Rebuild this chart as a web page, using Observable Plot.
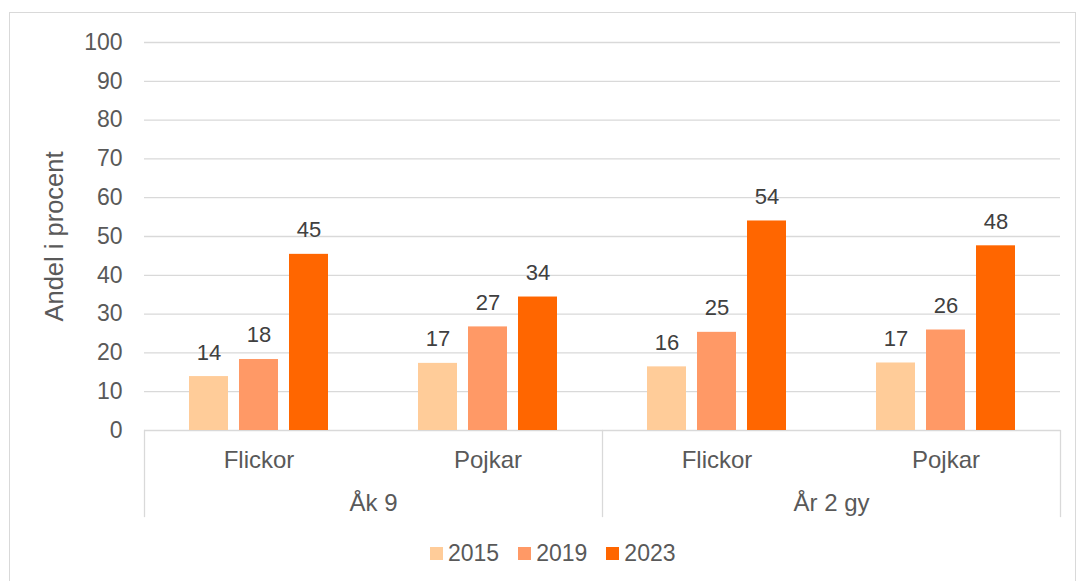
<!DOCTYPE html>
<html>
<head>
<meta charset="utf-8">
<script src="https://cdn.jsdelivr.net/npm/d3@7"></script>
<script src="https://cdn.jsdelivr.net/npm/@observablehq/plot@0.6"></script>
<style>
  html, body { margin: 0; padding: 0; background: #fff; }
  body { width: 1077px; height: 581px; position: relative; overflow: hidden; font-family: "Liberation Sans", Arial, sans-serif; }
  #frame { position: absolute; left: 9px; top: 12px; width: 1067px; height: 600px; border: 1px solid #d9d9d9; box-sizing: border-box; }
  #chart { position: absolute; left: 0; top: 0; }
  #legend { position: absolute; left: 430px; top: 540px; display: flex; align-items: center; font-size: 23px; color: #595959; }
  #legend .item { display: flex; align-items: center; margin-right: 19px; }
  #legend .sw { width: 13px; height: 13px; margin-right: 5px; }
</style>
</head>
<body>
<div id="frame"></div>
<div id="chart"></div>
<div id="legend"></div>
<script>
// ---- data ----
const groups = ["Åk 9", "År 2 gy"];
const categories = ["Flickor", "Pojkar"];
const years = ["2015", "2019", "2023"];
// values per subgroup in order: Åk 9 Flickor, Åk 9 Pojkar, År 2 gy Flickor, År 2 gy Pojkar
const v2015 = [13.9, 17.3, 16.4, 17.4];
const v2019 = [18.3, 26.7, 25.3, 25.9];
const v2023 = [45.4, 34.4, 54.0, 47.6];
const yTicks = [0, 10, 20, 30, 40, 50, 60, 70, 80, 90, 100];
const yLabel = "Andel i procent";
const colors = ["#ffcc99", "#ff9966", "#ff6600"];

// ---- build table ----
const subgroups = [];
groups.forEach(g => categories.forEach(c => subgroups.push({key: g + "|" + c, group: g, cat: c})));
const seriesVals = [v2015, v2019, v2023];
const data = [];
subgroups.forEach((s, i) => years.forEach((y, j) => data.push({key: s.key, group: s.group, cat: s.cat, year: y, value: seriesVals[j][i]})));

const textColor = "#595959";
const gridColor = "#d9d9d9";
const sepOpts = {stroke: gridColor, strokeWidth: 1.3, insetTop: 388, insetBottom: -86};

const chart = Plot.plot({
  width: 1077,
  height: 520,
  marginLeft: 143,
  marginRight: 16,
  marginTop: 42,
  marginBottom: 90,
  style: {fontFamily: "'Liberation Sans', Arial, sans-serif", color: textColor, background: "transparent", overflow: "visible"},
  fx: {domain: subgroups.map(s => s.key), padding: 0, axis: null},
  x: {domain: years, paddingInner: 0.216, paddingOuter: 0.858, axis: null},
  y: {domain: [0, 100]},
  color: {domain: years, range: colors},
  marks: [
    Plot.gridY(yTicks, {stroke: gridColor, strokeOpacity: 1, strokeWidth: 1.3}),
    Plot.axisY(yTicks, {tickSize: 0, tickPadding: 22, fontSize: 23, fill: textColor, label: null}),
    Plot.text([yLabel], {fx: () => subgroups[0].key, text: d => d, frameAnchor: "left", textAnchor: "middle",
      rotate: -90, dx: -90, fontSize: 25.5, fill: textColor}),
    Plot.barY(data, {fx: "key", x: "year", y: "value", fill: "year"}),
    Plot.text(data, {fx: "key", x: "year", y: "value", text: d => String(Math.round(d.value)),
      lineAnchor: "bottom", dy: -17, fontSize: 22, fill: "#404040"}),
    Plot.text(subgroups, {fx: "key", text: "cat", frameAnchor: "bottom", lineAnchor: "bottom",
      dy: 37, fontSize: 24, fill: textColor}),
    Plot.text(subgroups.filter(s => s.cat === categories[1]), {fx: "key", text: "group",
      frameAnchor: "bottom-left", textAnchor: "middle", lineAnchor: "bottom", dy: 80, fontSize: 24, fill: textColor}),
    Plot.frame({anchor: "left", fx: subgroups[0].key, ...sepOpts}),
    Plot.frame({anchor: "left", fx: subgroups[2].key, ...sepOpts}),
    Plot.frame({anchor: "right", fx: subgroups[3].key, ...sepOpts})
  ]
});
document.getElementById("chart").appendChild(chart);

// ---- legend ----
const legend = document.getElementById("legend");
years.forEach((y, i) => {
  const item = document.createElement("div");
  item.className = "item";
  const sw = document.createElement("span");
  sw.className = "sw";
  sw.style.background = colors[i];
  const t = document.createElement("span");
  t.textContent = y;
  item.appendChild(sw);
  item.appendChild(t);
  legend.appendChild(item);
});
</script>
</body>
</html>
